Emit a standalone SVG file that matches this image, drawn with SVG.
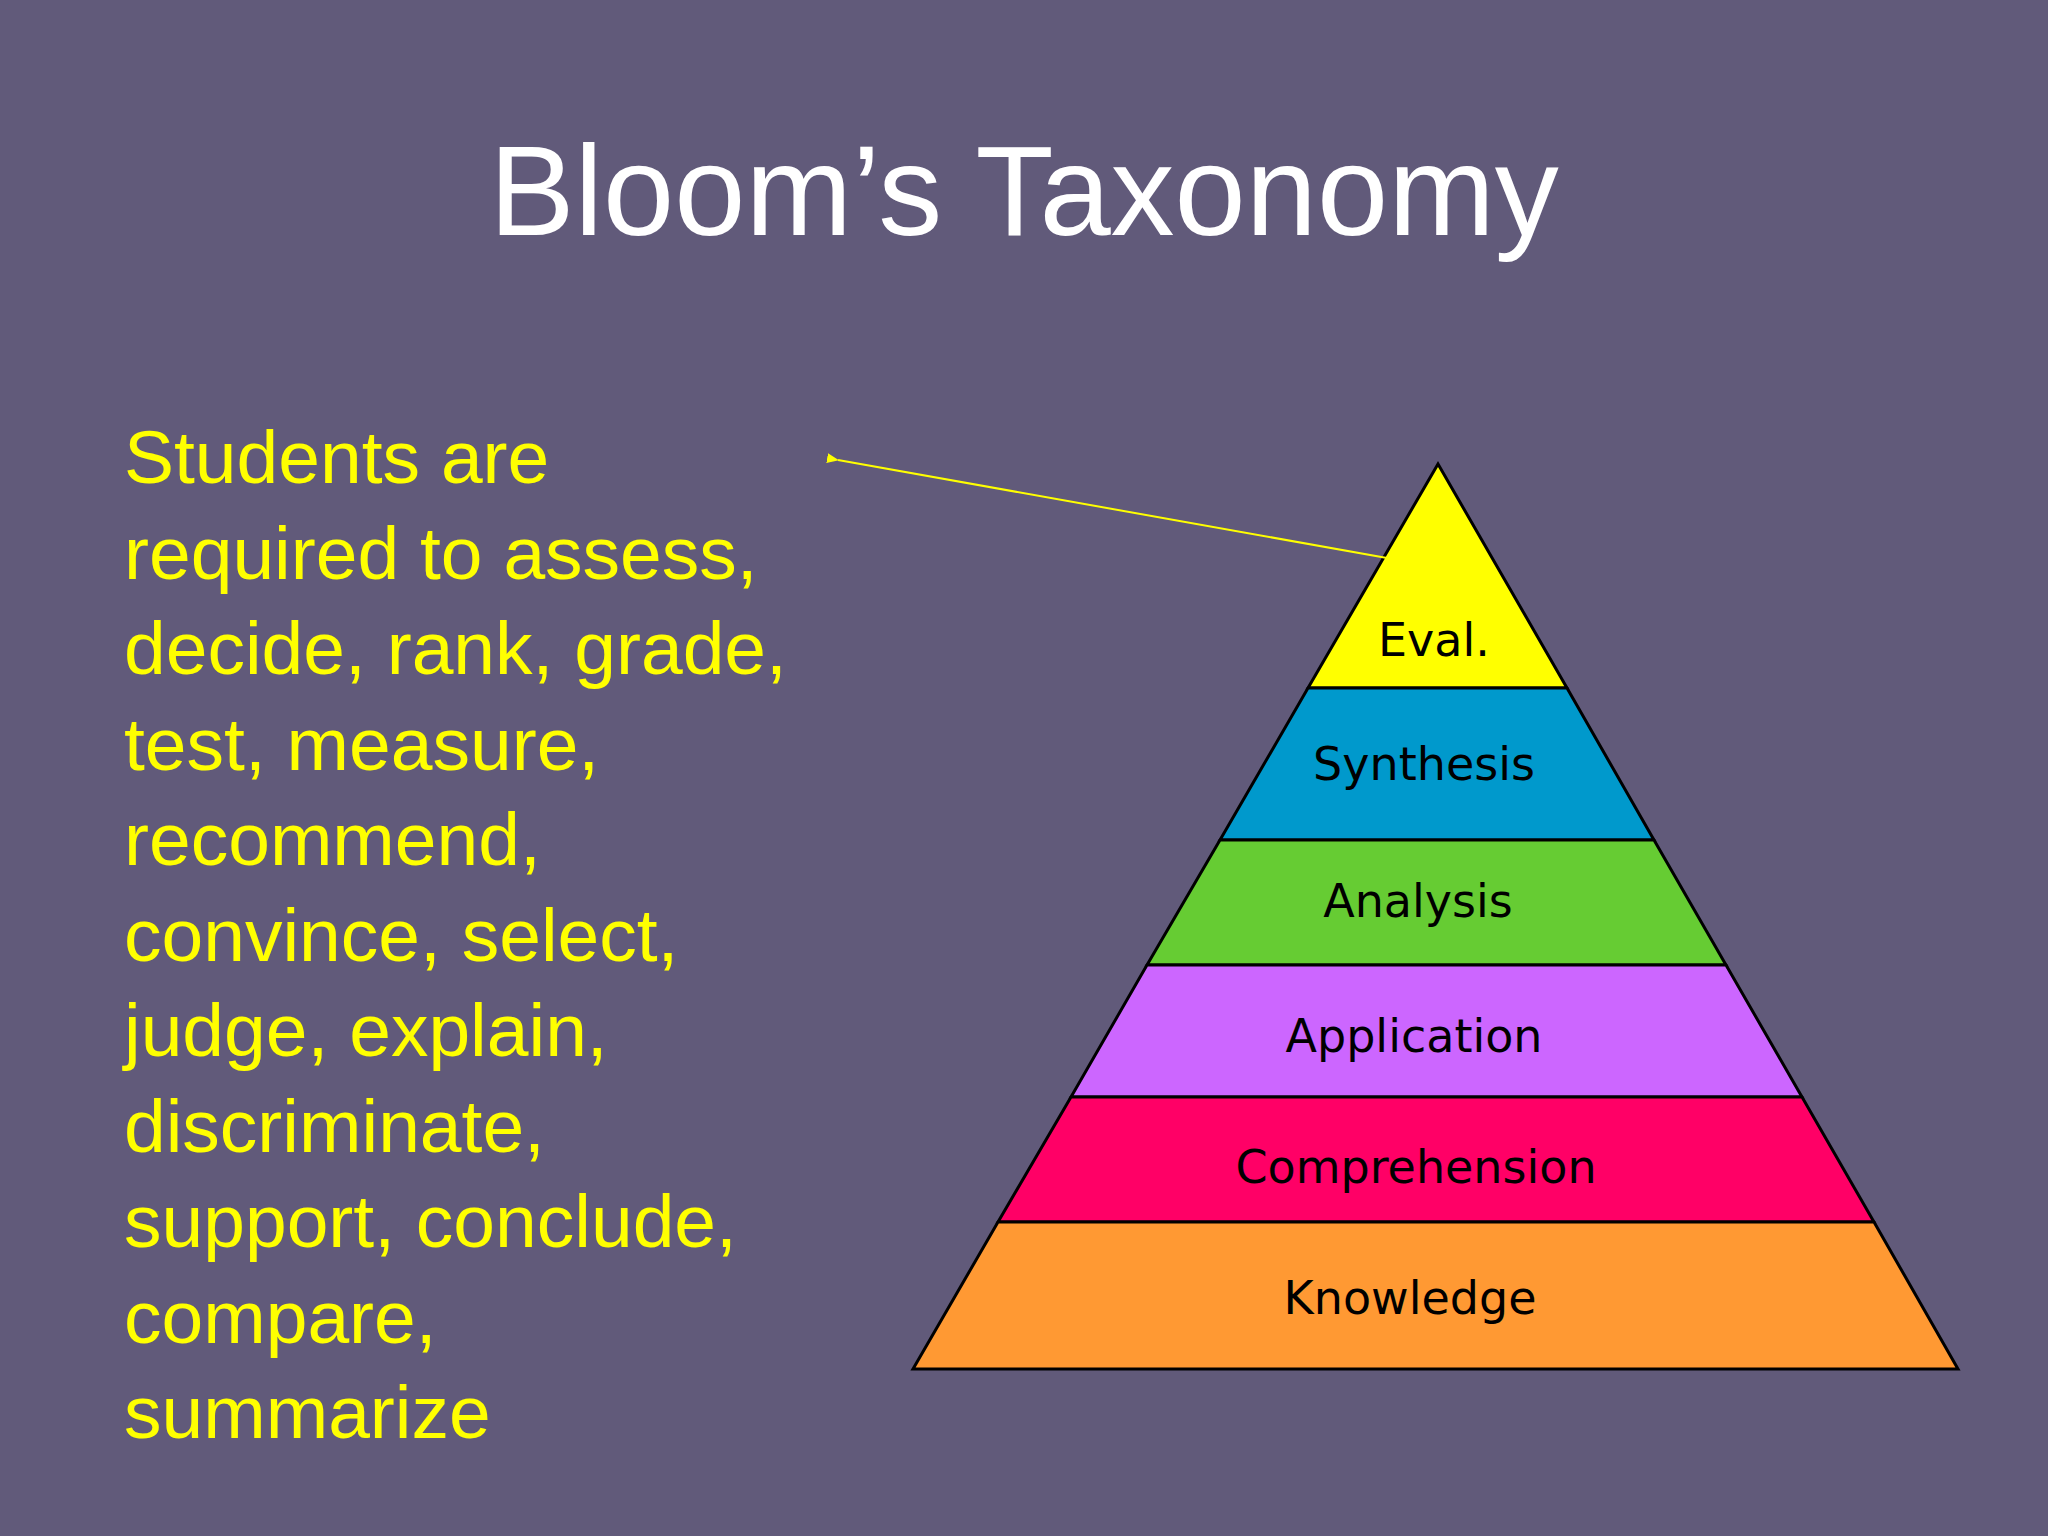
<svg xmlns="http://www.w3.org/2000/svg" width="2048" height="1536" viewBox="0 0 2048 1536">
<defs>
<style>
.band{stroke:#000;stroke-width:3}
.lbl{font-family:"DejaVu Sans",sans-serif;font-size:46px;fill:#000;text-anchor:middle;dominant-baseline:central}
.body{font-family:"Liberation Sans",Arial,sans-serif;font-size:75px;fill:#ffff00}
</style>
<marker id="ah" markerWidth="12" markerHeight="10" refX="1" refY="5" orient="auto" markerUnits="userSpaceOnUse">
<path d="M12,0 L0,5 L12,10 Z" fill="#ffff00"/>
</marker>
</defs>
<rect width="2048" height="1536" fill="#615a7a"/>
<text x="1024" y="235" font-family="Liberation Sans,Arial,sans-serif" font-size="128" fill="#fff" text-anchor="middle">Bloom’s Taxonomy</text>
<text class="body" x="124" y="483">
<tspan x="124">Students are</tspan>
<tspan x="124" dy="95.5">required to assess,</tspan>
<tspan x="124" dy="95.5">decide, rank, grade,</tspan>
<tspan x="124" dy="95.5">test, measure,</tspan>
<tspan x="124" dy="95.5">recommend,</tspan>
<tspan x="124" dy="95.5">convince, select,</tspan>
<tspan x="124" dy="95.5">judge, explain,</tspan>
<tspan x="124" dy="95.5">discriminate,</tspan>
<tspan x="124" dy="95.5">support, conclude,</tspan>
<tspan x="124" dy="95.5">compare,</tspan>
<tspan x="124" dy="95.5">summarize</tspan>
</text>
<g id="eval"><polygon class="band" fill="#ffff00" points="1438,464 1567,688 1308,688"/><text class="lbl" x="1434" y="640">Eval.</text></g>
<g id="synthesis"><polygon class="band" fill="#0099cc" points="1308,688 1567,688 1654,840 1220,840"/><text class="lbl" x="1424" y="764">Synthesis</text></g>
<g id="analysis"><polygon class="band" fill="#66cc33" points="1220,840 1654,840 1726,965 1147,965"/><text class="lbl" x="1418" y="901">Analysis</text></g>
<g id="application"><polygon class="band" fill="#cc66ff" points="1147,965 1726,965 1802,1097 1071,1097"/><text class="lbl" x="1414" y="1036">Application</text></g>
<g id="comprehension"><polygon class="band" fill="#ff0066" points="1071,1097 1802,1097 1874,1222 998,1222"/><text class="lbl" x="1416" y="1167">Comprehension</text></g>
<g id="knowledge"><polygon class="band" fill="#ff9933" points="998,1222 1874,1222 1958,1369 913,1369"/><text class="lbl" x="1410" y="1298">Knowledge</text></g>
<g id="connectors"><line x1="1387" y1="558" x2="838" y2="460" stroke="#ffff00" stroke-width="2" marker-end="url(#ah)"/></g>
</svg>
